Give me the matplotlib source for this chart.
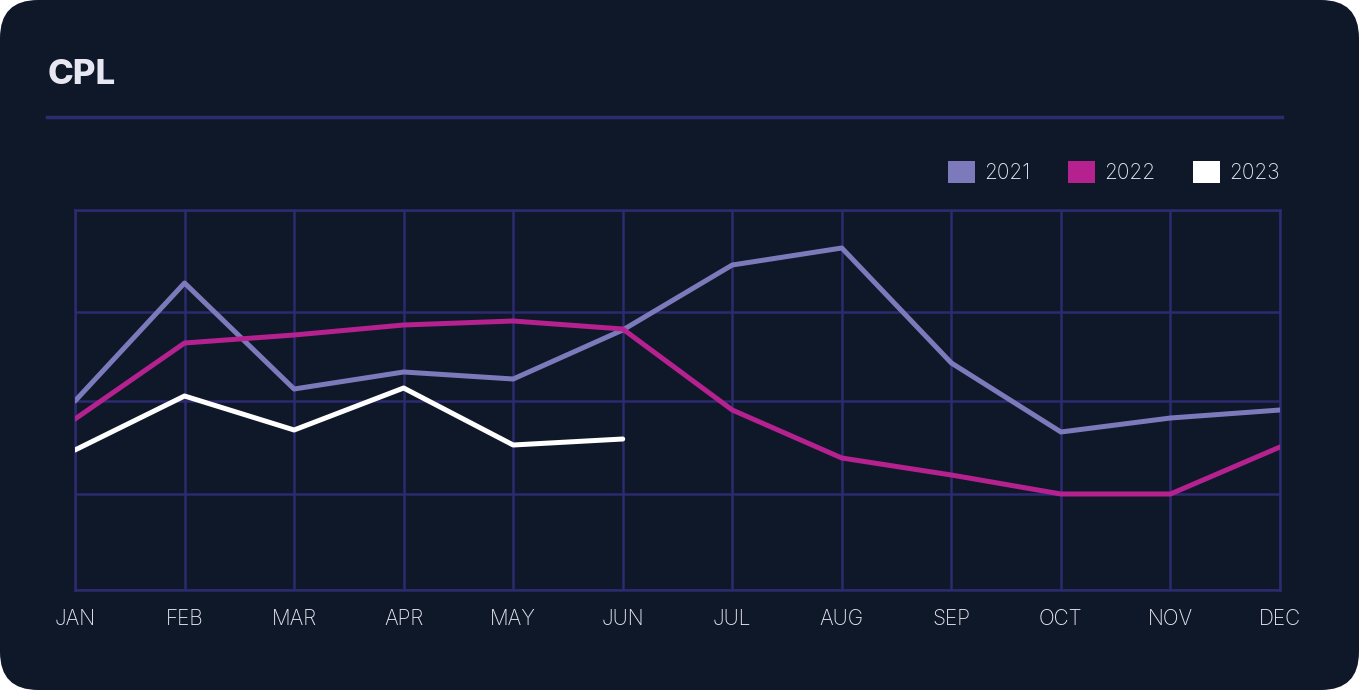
import matplotlib
matplotlib.use("Agg")
import matplotlib.pyplot as plt
from matplotlib.patches import FancyBboxPatch, Patch
from matplotlib.lines import Line2D

plt.rcParams['font.family'] = ['Inter', 'DejaVu Sans']

# 数据
months = ['JAN', 'FEB', 'MAR', 'APR', 'MAY', 'JUN', 'JUL', 'AUG', 'SEP', 'OCT', 'NOV', 'DEC']
cpl_2021 = [189, 307, 201, 218, 211, 260, 325, 342, 227, 158, 172, 180]
cpl_2022 = [171, 247, 255, 265, 269, 261, 180, 132, 115, 96, 96, 143]
cpl_2023 = [140, 194, 160, 202, 145, 151]
years = ['2021', '2022', '2023']

bg = '#0f1829'
grid_c = '#2d2a70'
col = {'2021': '#7d7abb', '2022': '#b5218f', '2023': '#ffffff'}
txt = '#e6e7f2'

fig = plt.figure(figsize=(13.59, 6.90), dpi=100)
fig.patch.set_facecolor('white')
card = FancyBboxPatch((0, 0), 1359, 690, boxstyle="round,pad=0,rounding_size=38",
                      transform=None, facecolor=bg, edgecolor='none', zorder=-5)
fig.patches.append(card)

# 标题和分隔线
fig.text(48 / 1359, 1 - 75 / 690, 'CPL', color=txt, fontsize=25, fontweight='heavy',
         va='center', ha='left')
fig.lines.append(Line2D([47 / 1359, 1282 / 1359], [1 - 117 / 690, 1 - 117 / 690],
                        transform=fig.transFigure, color=grid_c, lw=2.5))

ax = fig.add_axes([75 / 1359, 100 / 690, 1205 / 1359, 380 / 690])
ax.set_facecolor('none')

x = list(range(len(months)))
ax.plot(x, cpl_2021, color=col['2021'], lw=3.6, solid_capstyle='round', zorder=3)
ax.plot(x, cpl_2022, color=col['2022'], lw=3.6, solid_capstyle='round', zorder=4)
ax.plot(x[:len(cpl_2023)], cpl_2023, color=col['2023'], lw=3.6, solid_capstyle='round', zorder=5)

ax.set_xlim(0, 11)
ax.set_ylim(0, 380)
ax.set_xticks(x)
ax.set_xticklabels(months, color=txt, fontsize=15, fontweight='light')
ax.set_yticks([0, 96, 189, 278, 380])
ax.set_yticklabels([])
ax.tick_params(axis='both', length=0, pad=14)
ax.grid(True, color=grid_c, lw=1.8)
for s in ax.spines.values():
    s.set_color(grid_c)
    s.set_linewidth(1.8)

handles = [Patch(facecolor=col[y], edgecolor='none', label=y) for y in years]
leg = fig.legend(handles=handles, loc='center right', bbox_to_anchor=(1280 / 1359, 1 - 172 / 690),
                 ncol=3, frameon=False, fontsize=15, handlelength=1.3, handleheight=1.3,
                 handletextpad=0.45, columnspacing=1.8, borderaxespad=0, borderpad=0)
for t in leg.get_texts():
    t.set_color(txt)
    t.set_fontweight('light')

fig.savefig('out.png', dpi=100, facecolor=fig.get_facecolor())
